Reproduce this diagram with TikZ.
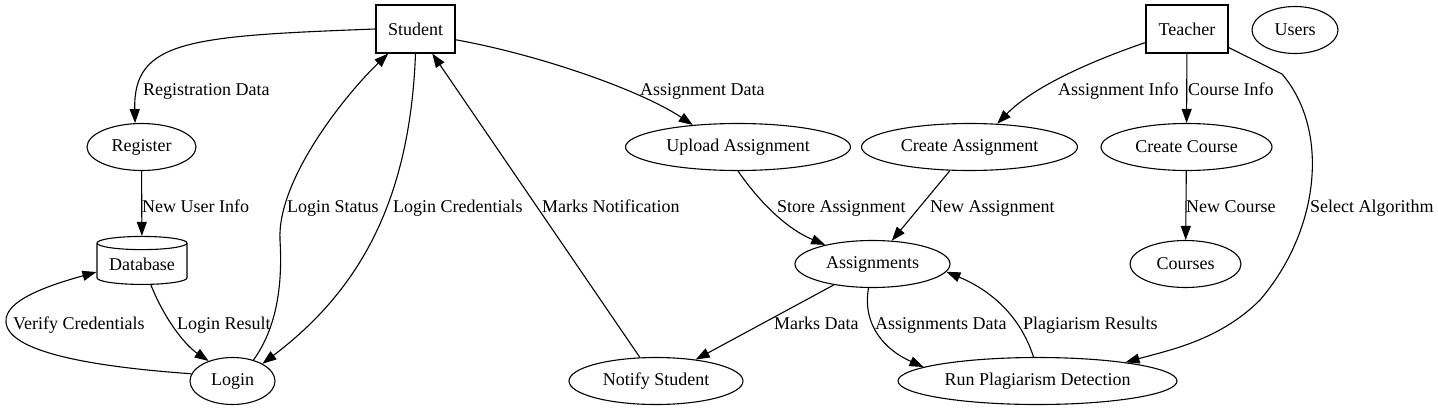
\documentclass[tikz,border=0pt]{standalone}
\usepackage{fontspec}
\setmainfont{Liberation Serif}
\usetikzlibrary{arrows.meta,shapes.geometric}

\begin{document}
\begin{tikzpicture}[x=1pt,y=-1pt,
    font=\fontsize{18}{21}\selectfont,
    proc/.style={ellipse,draw,line width=1.1pt,inner sep=0pt,minimum height=47pt},
    ent/.style={rectangle,draw,line width=1.1pt,inner sep=0pt,minimum height=48pt},
    store/.style={cylinder,shape border rotate=90,aspect=0.2,draw,line width=1.1pt,
        inner sep=0pt,minimum width=90pt,minimum height=48pt},
    flow/.style={-{Triangle[length=14pt,width=10pt]},line width=1.1pt},
    lbl/.style={anchor=base west,inner sep=0pt}]

    \useasboundingbox (0,0) rectangle (1438,410);

    % entities and processes
    \node [ent,minimum width=79pt] (stu) at (415.5,29) {Student};
    \node [ent,minimum width=82pt] (tch) at (1187,29) {Teacher};
    \node [proc,minimum width=86pt] (usr) at (1295,30) {Users};
    \node [proc,minimum width=109pt] (reg) at (141.5,147) {Register};
    \node [proc,minimum width=225pt] (upl) at (738,147) {Upload Assignment};
    \node [proc,minimum width=216pt] (cas) at (969.5,147) {Create Assignment};
    \node [proc,minimum width=171pt] (ccr) at (1186.5,147) {Create Course};
    \node [store] (db) at (142,264) {Database};
    \node [proc,minimum width=155pt] (asg) at (872.5,264) {Assignments};
    \node [proc,minimum width=111pt] (crs) at (1185.5,264) {Courses};
    \node [proc,minimum width=85pt] (login) at (232.5,381) {Login};
    \node [proc,minimum width=174pt] (ntf) at (656,381) {Notify Student};
    \node [proc,minimum width=279pt] (run) at (1037.5,381) {Run Plagiarism Detection};

    % flows
    \draw [flow] (stu.west) .. controls (190,36) and (133,40) .. (reg.105);
    \draw [flow] (stu.-15) .. controls (540,55) and (640,90) .. (upl.154);
    \draw [flow] (stu.south) .. controls (410,200) and (360,290) .. (login.30);
    \draw [flow] (login.45) .. controls (275,330) and (283,290) .. (280,240)
        .. controls (277,180) and (345,95) .. (stu.222);
    \draw [flow] (ntf) -- (stu);
    \draw [flow] (reg) -- (db);
    \draw [flow] (db.-67) .. controls (165,320) and (185,345) .. (login.140);
    \draw [flow] (login.170) .. controls (110,368) and (8,355) .. (6,322)
        .. controls (4,300) and (50,285) .. (db.190);
    \draw [flow] (upl.south) .. controls (758,200) and (785,228) .. (asg.158);
    \draw [flow] (cas) -- (asg);
    \draw [flow] (asg) -- (ntf);
    \draw [flow] ([xshift=-4pt]asg.south) .. controls (862,325) and (885,350) .. (run.173);
    \draw [flow] ([xshift=-4pt]run.north) .. controls (1020,315) and (990,290) .. (asg.-6);
    \draw [flow] (tch.198) .. controls (1080,65) and (1030,90) .. (cas.40);
    \draw [flow] (tch) -- (ccr);
    \draw [flow] (ccr) -- (crs);
    \draw [flow] (tch.-24) -- (1282,74) .. controls (1330,130) and (1320,230) .. (1260,300)
        .. controls (1220,340) and (1170,350) .. (run.12);

    % flow labels
    \node [lbl] (lrd) at (143,95) {Registration Data};
    \node [lbl] (lad) at (640,95) {Assignment Data};
    \node [lbl] (lai) at (1058,95) {Assignment Info};
    \node [lbl] (lci) at (1188,95) {Course Info};
    \node [lbl] (lnu) at (142,212) {New User Info};
    \node [lbl] (lls) at (287,212) {Login Status};
    \node [lbl] (llc) at (393,212) {Login Credentials};
    \node [lbl] (lmn) at (542,212) {Marks Notification};
    \node [lbl] (lsa) at (777,212) {Store Assignment};
    \node [lbl] (lna) at (930,212) {New Assignment};
    \node [lbl] (lnc) at (1186,212) {New Course};
    \node [lbl] (lsal) at (1310,212) {Select Algorithm};
    \node [lbl] (lvc) at (13,329) {Verify Credentials};
    \node [lbl] (llr) at (177,329) {Login Result};
    \node [lbl] (lmd) at (774,329) {Marks Data};
    \node [lbl] (lasd) at (875,329) {Assignments Data};
    \node [lbl] (lpr) at (1023,329) {Plagiarism Results};
\end{tikzpicture}
\end{document}
